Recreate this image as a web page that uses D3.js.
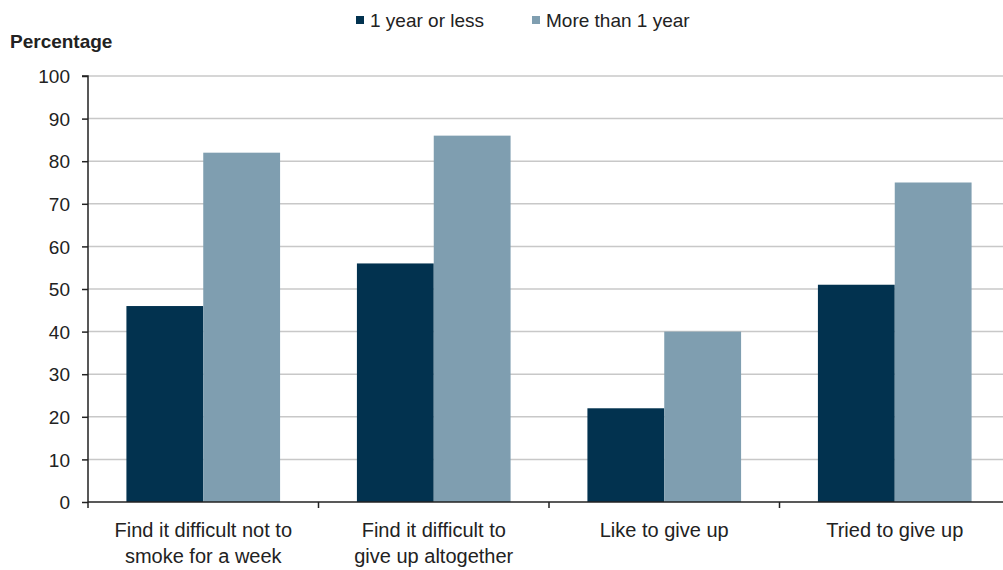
<!DOCTYPE html>
<html>
<head>
<meta charset="utf-8">
<script src="https://cdn.jsdelivr.net/npm/d3@7"></script>
<style>
  body { margin: 0; background: #fff; }
  svg { display: block; }
  text { font-family: "Liberation Sans Narrow", "Liberation Sans", Arial, sans-serif; fill: #222; }
</style>
</head>
<body>
<svg id="chart" width="1003" height="570"></svg>
<script>
// Smoking attitudes by length of time smoking
const categories = [
  ["Find it difficult not to", "smoke for a week"],
  ["Find it difficult to", "give up altogether"],
  ["Like to give up"],
  ["Tried to give up"]
];
const seriesNames = ["1 year or less", "More than 1 year"];
const shortTerm = [46, 56, 22, 51];
const longTerm = [82, 86, 40, 75];
const yTicks = [0, 10, 20, 30, 40, 50, 60, 70, 80, 90, 100];
const colors = ["#02324f", "#7f9eb0"];

const svg = d3.select("#chart");
const plotLeft = 88, plotRight = 1010, plotTop = 76, plotBottom = 502;

const x0 = d3.scaleBand().domain(d3.range(categories.length)).range([plotLeft, plotRight]).paddingInner(0).paddingOuter(0);
const x1 = d3.scaleBand().domain([0, 1]).range([0, x0.bandwidth()]).paddingOuter(0.5).paddingInner(0);
const y = d3.scaleLinear().domain([0, 100]).range([plotBottom, plotTop]);

// gridlines
svg.append("g").selectAll("line").data(yTicks.filter(d => d > 0)).join("line")
  .attr("x1", plotLeft).attr("x2", plotRight)
  .attr("y1", d => y(d)).attr("y2", d => y(d))
  .attr("stroke", "#c8c8c8").attr("stroke-width", 1.5);

// bars
const groups = svg.append("g").selectAll("g").data(categories.map((c, i) => i)).join("g")
  .attr("transform", i => `translate(${x0(i)},0)`);
groups.selectAll("rect").data(i => [shortTerm[i], longTerm[i]]).join("rect")
  .attr("x", (d, j) => x1(j))
  .attr("width", x1.bandwidth())
  .attr("y", d => y(d))
  .attr("height", d => plotBottom - y(d))
  .attr("fill", (d, j) => colors[j]);

// y axis
const yAxis = d3.axisLeft(y).tickValues(yTicks).tickSize(6).tickPadding(12).tickFormat(d3.format("d"));
const gy = svg.append("g").attr("transform", `translate(${plotLeft},0)`).call(yAxis);
gy.select(".domain").attr("stroke", "#222").attr("stroke-width", 1.5).attr("d", `M-6,${plotTop}H0V${plotBottom}`);
gy.selectAll(".tick line").attr("stroke", "#222").attr("stroke-width", 1.5);
gy.selectAll(".tick text").style("font-size", "19px").attr("fill", "#222").attr("dy", "0.35em");

// x axis
const bounds = d3.range(categories.length + 1).map(i => plotLeft + i * x0.bandwidth());
svg.append("line").attr("x1", plotLeft).attr("x2", plotRight).attr("y1", plotBottom).attr("y2", plotBottom)
  .attr("stroke", "#222").attr("stroke-width", 1.5);
svg.append("g").selectAll("line").data(bounds).join("line")
  .attr("x1", d => d).attr("x2", d => d).attr("y1", plotBottom).attr("y2", plotBottom + 6)
  .attr("stroke", "#222").attr("stroke-width", 1.5);

// category labels
const labels = svg.append("g").selectAll("text").data(categories).join("text")
  .attr("x", (d, i) => x0(i) + x0.bandwidth() / 2)
  .attr("y", 537)
  .attr("text-anchor", "middle")
  .style("font-size", "20px");
labels.selectAll("tspan").data(d => d).join("tspan")
  .attr("x", function() { return d3.select(this.parentNode).attr("x"); })
  .attr("dy", (d, i) => i === 0 ? 0 : 26)
  .text(d => d);

// y axis title
svg.append("text").attr("x", 10).attr("y", 48).text("Percentage")
  .style("font-size", "19px").style("font-weight", "bold");

// legend
const legendX = [356, 532];
const lg = svg.append("g").selectAll("g").data(seriesNames).join("g")
  .attr("transform", (d, i) => `translate(${legendX[i]},20)`);
lg.append("rect").attr("x", 0).attr("y", -4).attr("width", 8).attr("height", 8)
  .attr("fill", (d, i) => colors[i]);
lg.append("text").attr("x", 14).attr("y", 0).attr("dy", "0.35em")
  .style("font-size", "19px").text(d => d);
</script>
</body>
</html>
